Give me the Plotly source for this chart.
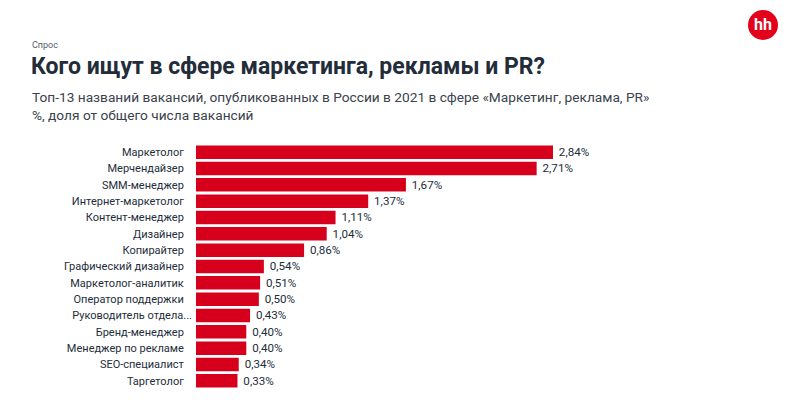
# -*- coding: utf-8 -*-
import plotly.graph_objects as go

jobs = ['Маркетолог', 'Мерчендайзер', 'SMM-менеджер', 'Интернет-маркетолог', 'Контент-менеджер',
        'Дизайнер', 'Копирайтер', 'Графический дизайнер', 'Маркетолог-аналитик', 'Оператор поддержки',
        'Руководитель отдела...', 'Бренд-менеджер', 'Менеджер по рекламе', 'SEO-специалист', 'Таргетолог']
shares = [2.84, 2.71, 1.67, 1.37, 1.11, 1.04, 0.86, 0.54, 0.51, 0.50, 0.43, 0.40, 0.40, 0.34, 0.33]
share_labels = ['2,84%', '2,71%', '1,67%', '1,37%', '1,11%', '1,04%', '0,86%', '0,54%', '0,51%', '0,50%',
                '0,43%', '0,40%', '0,40%', '0,34%', '0,33%']

W, H = 792, 400
L, R, T, B = 196, 12, 144, 11
RED = '#d6001c'
INK = '#232d3a'
FONT = 'Roboto'
NB = '\u00a0'


def px(x):
    # pixel position in the window -> paper coordinate
    return (x - L) / (W - L - R)


def py(y):
    return 1 - (y - T) / (H - T - B)


ticks = [j if j.endswith('...') else j + NB * 3 for j in jobs]

fig = go.Figure(go.Bar(
    x=shares, y=jobs, orientation='h',
    marker=dict(color=RED, line=dict(width=0)),
    width=0.83,
    text=[NB + t for t in share_labels],
    textposition='outside', cliponaxis=False,
    textfont=dict(family=FONT, size=12, color=INK),
))

notes = [
    dict(text='Спрос', x=px(30), y=py(45), font=dict(size=9, color='#555c66')),
    dict(text='Топ-13 названий вакансий, опубликованных в России в 2021 в сфере «Маркетинг, реклама, PR»',
         x=px(29.5), y=py(97), font=dict(size=13.7, color='#3a424d')),
    dict(text='%, доля от общего числа вакансий', x=px(29.5), y=py(115), font=dict(size=13.7, color='#3a424d')),
]
annotations = [dict(xref='paper', yref='paper', xanchor='left', yanchor='middle', showarrow=False, **n)
               for n in notes]
annotations.append(dict(text='<b>hh</b>', xref='paper', yref='paper', x=px(763), y=py(25), showarrow=False,
                        xanchor='center', yanchor='middle',
                        font=dict(size=16, color='white', family=FONT)))

fig.update_layout(
    width=W, height=H,
    margin=dict(l=L, r=R, t=T, b=B, pad=0),
    paper_bgcolor='white', plot_bgcolor='white',
    showlegend=False,
    font=dict(family=FONT, color=INK),
    title=dict(text='<b>Кого ищут в сфере маркетинга, рекламы и PR?</b>', xref='container', yref='container',
               x=31 / W, y=1 - 66 / H, xanchor='left', yanchor='middle',
               font=dict(family=FONT, size=23, color=INK)),
    annotations=annotations,
    shapes=[dict(type='circle', xref='paper', yref='paper', xsizemode='pixel', ysizemode='pixel', layer='below',
                 xanchor=px(763), yanchor=py(25), x0=-15, x1=15, y0=-15, y1=15,
                 fillcolor='#e3001b', line=dict(width=0))],
    xaxis=dict(range=[0, (W - L - R) / 125.7], visible=False),
    yaxis=dict(autorange='reversed', tickmode='array', tickvals=jobs, ticktext=ticks,
               showline=False, showgrid=False, ticks='', ticklabelstandoff=3,
               tickfont=dict(family=FONT, size=11, color=INK)),
)

# default page margin would shift the whole chart by 8px
fig.write_html('out.html', config=dict(displayModeBar=False), post_script="document.body.style.margin='0';")
